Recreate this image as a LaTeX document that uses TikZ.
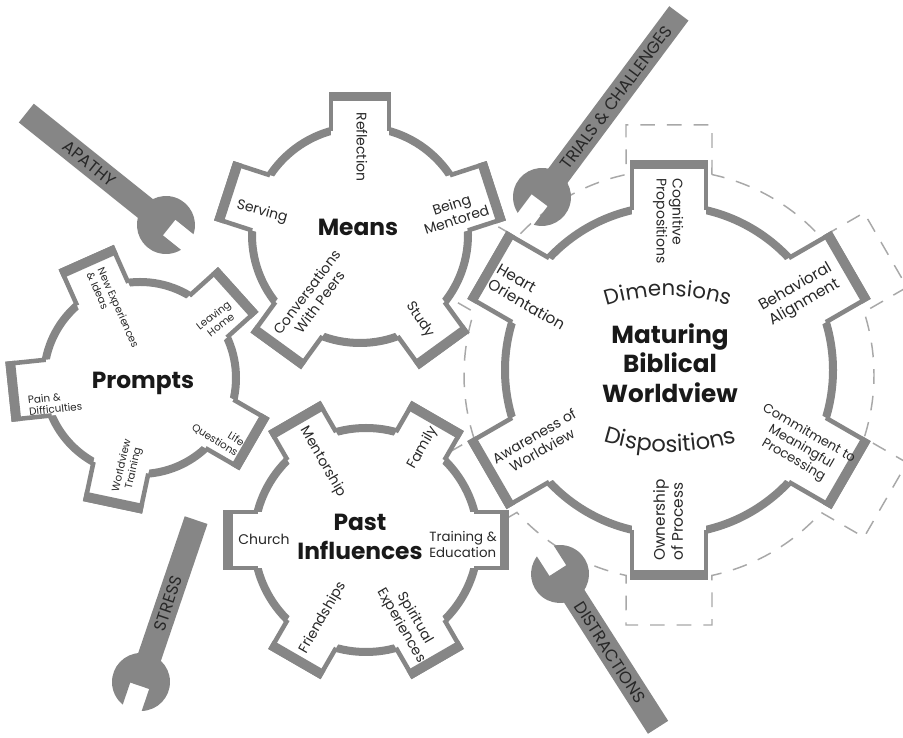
\documentclass[tikz,border=0pt]{standalone}
\usepackage{fontspec}
\setmainfont{Poppins}
\usetikzlibrary{decorations.text}
\definecolor{geargray}{RGB}{134,134,134}
\definecolor{dashgray}{RGB}{168,168,168}
\definecolor{inkgray}{RGB}{40,40,40}

\begin{document}
\begin{tikzpicture}[x=0.75pt, y=0.75pt,
    ring/.style={draw=geargray, line width=6pt},
    toothside/.style={draw=geargray, line width=3.4pt, line join=miter},
    toothcap/.style={fill=geargray},
    dashline/.style={draw=dashgray, line width=1.1pt, dash pattern=on 11pt off 9pt},
    lbl/.style={text=inkgray, align=center, inner sep=0pt, font=\fontsize{10.5}{12}\selectfont},
    biglbl/.style={lbl, font=\fontsize{11.5}{13.5}\selectfont},
    smalllbl/.style={lbl, font=\fontsize{7.8}{9}\selectfont},
    title/.style={text=black!90, align=center, inner sep=0pt, font=\bfseries\fontsize{17.5}{22}\selectfont},
    wrenchlbl/.style={text=inkgray, inner sep=0pt, font=\fontsize{12.5}{14}\selectfont}]

    \fill[white] (0,0) rectangle (903,738);
    \useasboundingbox (0,0) rectangle (903,738);

    % dashed outline round the big gear
    \begin{scope}[shift={(669,363)}]
        \draw[dashline] (77.9:205) \foreach \a in {90,150,...,390} {
            -- ({\a-9.76}:253.7) -- ({\a+9.76}:253.7) -- ({\a+12.1}:205)
            arc[start angle=\a+12.1, end angle=\a+47.9, radius=205]} -- cycle;
    \end{scope}

    % Maturing Biblical Worldview gear (6 teeth)
    \begin{scope}[shift={(669,368)}]
        \fill[white] (0,0) circle (164);
        \draw[ring] (0,0) circle (164);
        \foreach \a in {30,90,...,330} {
            \begin{scope}[rotate=\a]
                \fill[white] (154,-37) rectangle (208,37);
                \draw[toothside] (159.8,-37) -- (208,-37) -- (208,37) -- (159.8,37);
                \fill[toothcap] (200.5,-39.25) rectangle (210.25,39.25);
            \end{scope}
        }
    \end{scope}

    % Means gear (5 teeth)
    \begin{scope}[shift={(360,503)}]
        \fill[white] (0,0) circle (108);
        \draw[ring] (0,0) circle (108);
        \foreach \a in {18,90,162,234,306} {
            \begin{scope}[rotate=\a]
                \fill[white] (98,-29) rectangle (141,29);
                \draw[toothside] (104,-29) -- (141,-29) -- (141,29) -- (104,29);
                \fill[toothcap] (133.5,-31.25) rectangle (143.25,31.25);
            \end{scope}
        }
    \end{scope}

    % Past Influences gear (6 teeth)
    \begin{scope}[shift={(366,198)}]
        \fill[white] (0,0) circle (112);
        \draw[ring] (0,0) circle (112);
        \foreach \a in {0,60,...,300} {
            \begin{scope}[rotate=\a]
                \fill[white] (103,-28) rectangle (141,28);
                \draw[toothside] (108.4,-28) -- (141,-28) -- (141,28) -- (108.4,28);
                \fill[toothcap] (133.5,-30.25) rectangle (143.25,30.25);
            \end{scope}
        }
    \end{scope}

    % Prompts gear (5 teeth)
    \begin{scope}[shift={(140,360)}]
        \fill[white] (0,0) circle (96);
        \draw[ring] (0,0) circle (96);
        \foreach \a in {42,114,186,258,330} {
            \begin{scope}[rotate=\a]
                \fill[white] (86,-28) rectangle (130,28);
                \draw[toothside] (91.8,-28) -- (130,-28) -- (130,28) -- (91.8,28);
                \fill[toothcap] (122.5,-30.25) rectangle (132.25,30.25);
            \end{scope}
        }
    \end{scope}

    % Means texts
    \node[title] (means) at (358,511) {Means};
    \node[lbl, rotate=-90] (reflection) at (362,591) {Reflection};
    \node[lbl, rotate=18] (mentored) at (454,526) {Being\\Mentored};
    \node[lbl, rotate=-56] (study) at (420,418) {Study};
    \node[lbl, rotate=53] (peers) at (313,441) {Conversations\\With Peers};
    \node[lbl, rotate=-15] (serving) at (262,526) {Serving};

    % Prompts texts
    \node[title] (prompts) at (143,355) {Prompts};
    \node[smalllbl, rotate=-66, align=left] (newexp) at (113,428) {New Experiences\\\& Ideas};
    \node[smalllbl, rotate=38] (leaving) at (217,418) {Leaving\\Home};
    \node[smalllbl, rotate=-32, align=right] (lifeq) at (218,303) {Life\\Questions};
    \node[smalllbl, rotate=77] (wvtrain) at (128,271) {Worldview\\Training};
    \node[smalllbl, rotate=6, align=left] (pain) at (55,335) {Pain \&\\Difficulties};

    % Past Influences texts
    \node[title] (past) at (360,201) {Past\\Influences};
    \node[lbl] (church) at (264,199) {Church};
    \node[lbl, align=left, font=\fontsize{10}{12}\selectfont] (training) at (463,194) {Training \&\\Education};
    \node[lbl, rotate=60] (family) at (423,290) {Family};
    \node[lbl, rotate=-60] (mentorship) at (323,276) {Mentorship};
    \node[lbl, rotate=60] (friendships) at (323,120) {Friendships};
    \node[lbl, rotate=-60] (spiritual) at (408,116) {Spiritual\\Experiences};

    % Maturing texts
    \node[title, font=\bfseries\fontsize{18.5}{22}\selectfont] (maturing) at (670,375) {Maturing\\Biblical\\Worldview};
    \node[lbl, rotate=-90, align=left] (cognitive) at (668,517) {Cognitive\\Propositions};
    \node[biglbl, rotate=30] (behavioral) at (800,443) {Behavioral\\Alignment};
    \node[lbl, rotate=-30, font=\fontsize{9.8}{11.5}\selectfont] (commitment) at (801,291) {Commitment to\\Meaningful\\Processing};
    \node[biglbl, rotate=90, align=left] (ownership) at (668,218) {Ownership\\of Process};
    \node[lbl, rotate=30] (awareness) at (538,295) {Awareness of\\Worldview};
    \node[biglbl, rotate=-30, align=left] (heart) at (531,441) {Heart\\Orientation};

    % curved words
    \path[decorate, decoration={text along path, text align=center, text color=inkgray,
        text={|\fontsize{16}{16}\selectfont|Dimensions}}]
        ({668+200*cos(110)},{242+200*sin(110)}) arc[start angle=110, end angle=70, radius=200];
    \path[decorate, decoration={text along path, text align=center, text color=inkgray,
        text={|\fontsize{17}{17}\selectfont|Dispositions}}]
        ({670+220*cos(250)},{506+220*sin(250)}) arc[start angle=250, end angle=290, radius=220];

    % spanners
    \foreach \hx/\hy/\ang/\len/\tpos/\flip/\word/\nm in {
        166/513/141.3/179/98/180/APATHY/apathy,
        542/541/53.3/229/124/0/TRIALS \& CHALLENGES/trials,
        141/56/71.2/171/83/0/STRESS/stress,
        560/164/-57.4/182/93/0/DISTRACTIONS/distract} {
        \begin{scope}[shift={(\hx,\hy)}, rotate=\ang]
            \fill[geargray] (0,-12) rectangle (\len,12);
            \fill[geargray] (-27.2,-10) arc[start angle=200.2, end angle=519.8, radius=29]
                -- (-4,10) -- (-4,-10) -- cycle;
            \node[wrenchlbl, transform shape, rotate=\flip] (\nm) at (\tpos,0) {\word};
        \end{scope}
    }

\end{tikzpicture}
\end{document}
